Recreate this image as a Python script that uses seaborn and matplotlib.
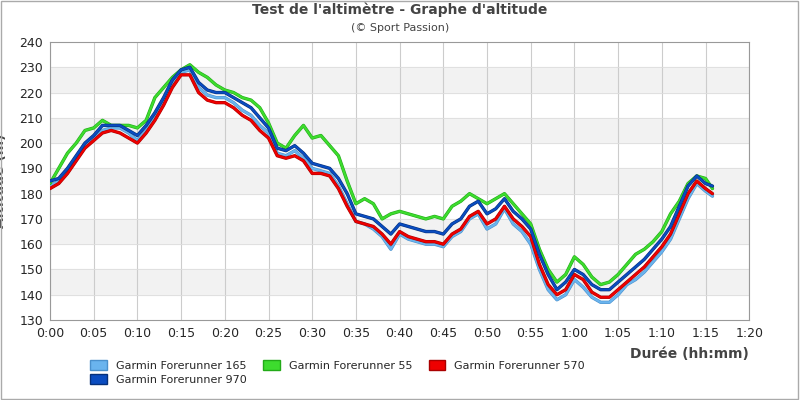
import matplotlib
matplotlib.use("Agg")
import matplotlib.pyplot as plt
import matplotlib.patheffects as pe
from matplotlib.patches import Patch
import seaborn as sns
import pandas as pd

minutes = list(range(0, 76)) + [75.8]
g165 = [183,185,189,194,199,202,205,206,206,204,201,205,210,216,223,228,229,222,219,218,218,216,213,211,207,204,196,195,197,194,190,189,188,183,176,169,168,166,163,158,164,162,161,160,160,159,163,165,170,172,166,168,174,168,165,160,150,142,138,140,146,143,139,137,137,140,144,146,149,153,157,162,170,178,184,181,179]
g55 = [184,190,196,200,205,206,209,207,207,207,206,209,218,222,226,229,231,228,226,223,221,220,218,217,214,208,200,198,203,207,202,203,199,195,185,176,178,176,170,172,173,172,171,170,171,170,175,177,180,178,176,178,180,176,172,168,158,150,145,148,155,152,147,144,145,148,152,156,158,161,165,172,177,184,187,186,182]
g570 = [182,184,188,193,198,201,204,205,204,202,200,204,209,215,222,227,227,220,217,216,216,214,211,209,205,202,195,194,195,193,188,188,187,182,175,169,168,167,164,160,165,163,162,161,161,160,164,166,171,173,168,170,175,170,167,163,152,144,140,142,148,146,141,139,139,142,145,148,151,155,159,164,172,180,185,182,180]
g970 = [185,186,190,195,200,203,207,207,207,205,203,207,212,218,225,229,230,224,221,220,220,218,216,214,210,206,198,197,199,196,192,191,190,186,180,172,171,170,167,164,168,167,166,165,165,164,168,170,175,177,172,174,178,173,170,166,156,148,142,145,150,148,144,142,142,145,148,151,154,158,162,167,175,183,187,184,183]
names = ["Garmin Forerunner 165", "Garmin Forerunner 55", "Garmin Forerunner 570", "Garmin Forerunner 970"]
colors = ["#6ab4ee", "#3ddc2e", "#ee0000", "#0a4cc0"]
edges = ["#4a90cc", "#22aa18", "#aa0000", "#05307a"]
xticks = list(range(0, 81, 5))
xlabels = [f"{m//60}:{m%60:02d}" for m in xticks]

rows = []
for n, s in zip(names, [g165, g55, g570, g970]):
    for m, v in zip(minutes, s):
        rows.append({"t": m, "alt": v, "s": n})
df = pd.DataFrame(rows)

sns.set_style("white")
fig = plt.figure(figsize=(8, 4), dpi=100)
ax = fig.add_axes([0.0625, 0.2, 0.874, 0.695])
for lo in range(140, 240, 20):
    ax.axhspan(lo, lo + 10, color="#f2f2f2", zorder=0)
for i, n in enumerate(names):
    sub = df[df.s == n]
    sns.lineplot(data=sub, x="t", y="alt", ax=ax, color=colors[i], lw=1.6, legend=False,
                 path_effects=[pe.Stroke(linewidth=2.4, foreground=edges[i]), pe.Normal()], zorder=3)
ax.set_xlim(0, 80); ax.set_ylim(130, 240)
ax.set_xticks(xticks); ax.set_xticklabels(xlabels, fontsize=9)
ax.set_yticks(range(130, 241, 10)); ax.tick_params(labelsize=9, length=3, pad=2)
ax.grid(axis="x", color="#cccccc", lw=0.8); ax.grid(axis="y", color="#dddddd", lw=0.6)
for sp in ax.spines.values(): sp.set_color("#999999")
ax.set_ylabel("Altitude (m)", fontsize=10, fontweight="bold", color="#444444")
ax.yaxis.set_label_coords(-0.062, 0.5)
ax.set_xlabel("")
fig.text(0.936, 0.105, "Durée (hh:mm)", ha="right", fontsize=10, fontweight="bold", color="#444444")
fig.text(0.5, 0.965, "Test de l'altimètre - Graphe d'altitude", ha="center", fontsize=10, fontweight="bold", color="#444444")
fig.text(0.5, 0.922, "(© Sport Passion)", ha="center", fontsize=8, color="#444444")
ph = [Patch(facecolor=c, edgecolor=e) for c, e in zip(colors, edges)]
order = [0, 3, 1, 2]
fig.legend([ph[i] for i in order], [names[i] for i in order], loc="upper left",
           bbox_to_anchor=(0.1, 0.125), ncol=3, frameon=False,
           fontsize=8, handlelength=1.5, handleheight=1.0, columnspacing=1.5, labelspacing=0.3)
fig.add_artist(plt.Rectangle((0.001, 0.002), 0.997, 0.995, transform=fig.transFigure, fill=False, ec="#aaaaaa", lw=1))
fig.savefig("out.png", dpi=100)
